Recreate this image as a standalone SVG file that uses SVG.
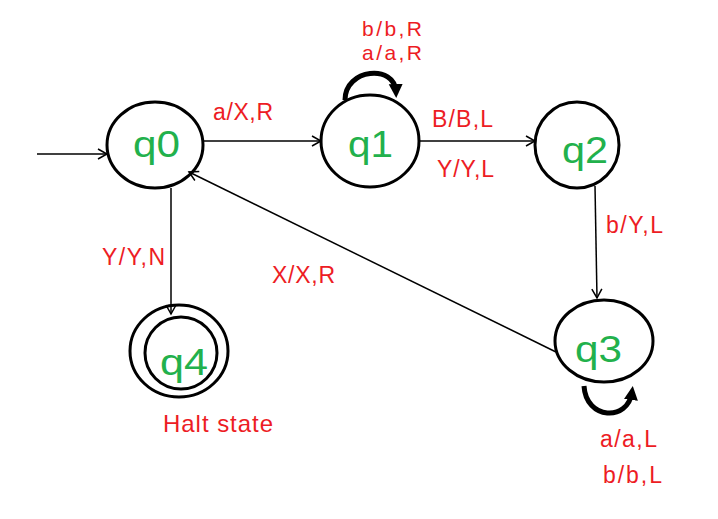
<svg xmlns="http://www.w3.org/2000/svg" width="718" height="519" viewBox="0 0 718 519">
<defs>
<marker id="ah" markerWidth="12" markerHeight="12" refX="10" refY="6" orient="auto" markerUnits="userSpaceOnUse">
<path d="M1,1 L10,6 L1,11" fill="none" stroke="#000" stroke-width="1.5"/>
</marker>
<marker id="ahb" markerWidth="16" markerHeight="16" refX="8" refY="8" orient="auto" markerUnits="userSpaceOnUse">
<path d="M0,1 L14,8 L0,15 Z" fill="#000"/>
</marker>
<style>
.st{fill:none;stroke:#000;stroke-width:3}
.sl{font-family:"Liberation Sans",Arial,sans-serif;font-size:37px;fill:#22b14c}
.el{font-family:"Liberation Sans",Arial,sans-serif;font-size:23px;fill:#ed1c24}
.sm{font-size:21px}
.ln{stroke:#000;stroke-width:1.5;fill:none}
.lp{stroke:#000;stroke-width:5;fill:none}
</style>
</defs>
<rect width="718" height="519" fill="#fff"/>
<g id="connectors">
<line class="ln" x1="37" y1="154" x2="107" y2="154" marker-end="url(#ah)"/>
<line class="ln" x1="203" y1="141" x2="321" y2="141" marker-end="url(#ah)"/>
<line class="ln" x1="420" y1="141" x2="535" y2="141" marker-end="url(#ah)"/>
<line class="ln" x1="595" y1="186" x2="597" y2="298" marker-end="url(#ah)"/>
<line class="ln" x1="556" y1="352" x2="189" y2="172" marker-end="url(#ah)"/>
<line class="ln" x1="171" y1="188" x2="171" y2="314" marker-end="url(#ah)"/>
<path class="lp" d="M345,100 C345,68 395,64 396,92" marker-end="url(#ahb)"/>
<path class="lp" d="M584,386 C586,420 628,422 632,392" marker-end="url(#ahb)"/>
</g>
<g id="q0"><ellipse class="st" cx="155" cy="145" rx="48" ry="43"/><text class="sl" x="133" y="157" textLength="47" lengthAdjust="spacingAndGlyphs">q0</text></g>
<g id="q1"><ellipse class="st" cx="370" cy="141" rx="49" ry="46"/><text class="sl" x="348" y="157" textLength="45" lengthAdjust="spacingAndGlyphs">q1</text></g>
<g id="q2"><ellipse class="st" cx="577" cy="145" rx="42" ry="43"/><text class="sl" x="562" y="163" textLength="46" lengthAdjust="spacingAndGlyphs">q2</text></g>
<g id="q3"><ellipse class="st" cx="604" cy="341" rx="49" ry="41"/><text class="sl" x="575" y="362" textLength="47" lengthAdjust="spacingAndGlyphs">q3</text></g>
<g id="q4"><ellipse class="st" cx="179" cy="351" rx="49" ry="46"/><ellipse class="st" cx="181" cy="353" rx="36" ry="36"/><text class="sl" x="160" y="375" textLength="48" lengthAdjust="spacingAndGlyphs">q4</text></g>
<g id="labels">
<text class="el" x="213" y="120" textLength="60">a/X,R</text>
<text class="el sm" x="362" y="36" textLength="60">b/b,R</text>
<text class="el sm" x="362" y="60" textLength="60">a/a,R</text>
<text class="el" x="432" y="127" textLength="61">B/B,L</text>
<text class="el" x="437" y="177" textLength="57">Y/Y,L</text>
<text class="el" x="606" y="233" textLength="57">b/Y,L</text>
<text class="el" x="272" y="283" textLength="63">X/X,R</text>
<text class="el" x="102" y="265" textLength="63">Y/Y,N</text>
<text class="el" x="163" y="432" textLength="110" style="font-size:24px">Halt state</text>
<text class="el" x="600" y="447" textLength="57">a/a,L</text>
<text class="el" x="603" y="483" textLength="59">b/b,L</text>
</g>
</svg>
